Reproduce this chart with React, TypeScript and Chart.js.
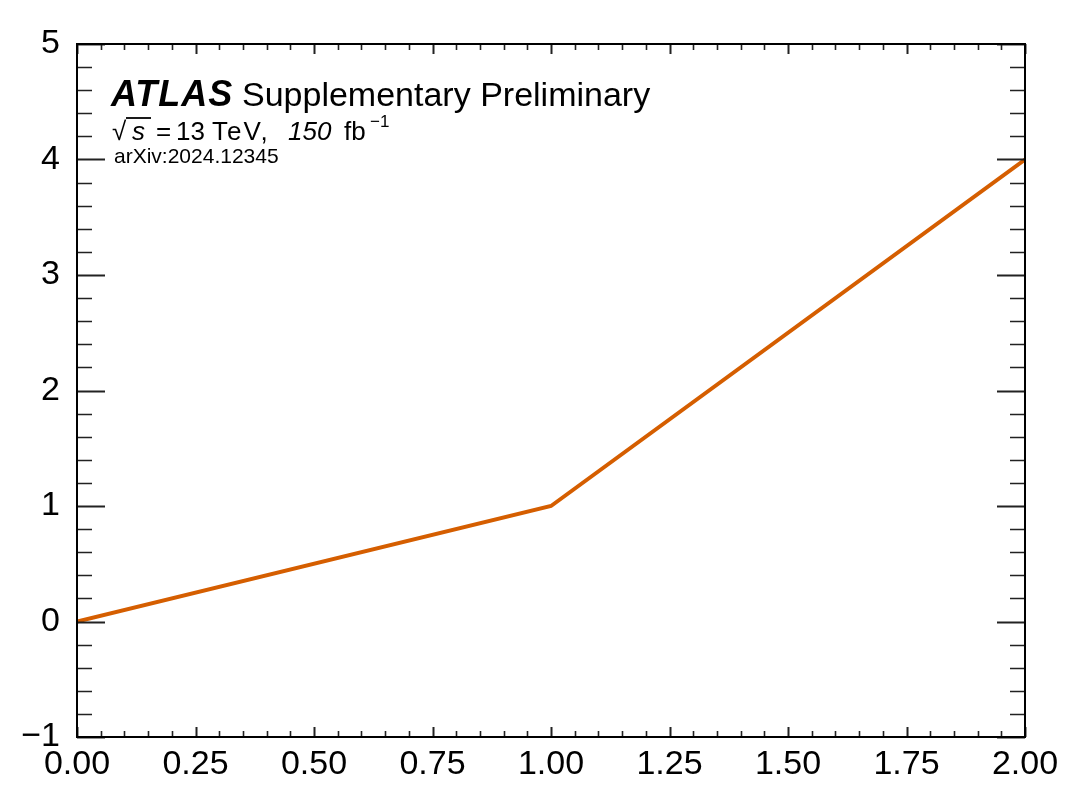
import { useEffect, useRef } from "react";
import Chart from "chart.js/auto";

const xValues = [0, 1, 2];
const yValues = [0, 1, 4];
const yTickValues = [-1, 0, 1, 2, 3, 4, 5];
const xTickValues = [0, 0.25, 0.5, 0.75, 1, 1.25, 1.5, 1.75, 2];
const yMinorStep = 0.2;
const xMinorStep = 0.05;

const FONT = "'Liberation Sans', Arial, Helvetica, sans-serif";

const frameAndTicks = {
  id: "frameAndTicks",
  afterDatasetsDraw(chart: any) {
    const { ctx, chartArea, scales } = chart;
    const { left, right, top, bottom } = chartArea;
    const xs = scales.x;
    const ys = scales.y;
    ctx.save();
    ctx.strokeStyle = "#222";

    // y ticks (left + right), pointing inwards
    const yMin = yTickValues[0];
    const yMax = yTickValues[yTickValues.length - 1];
    for (let v = yMin; v <= yMax + 1e-9; v += yMinorStep) {
      const val = Math.round(v * 1000) / 1000;
      const major = yTickValues.includes(val);
      const len = major ? 28 : 15;
      const py = Math.round(ys.getPixelForValue(val)) + 0.5;
      ctx.lineWidth = major ? 2 : 1.6;
      ctx.beginPath();
      ctx.moveTo(left, py);
      ctx.lineTo(left + len, py);
      ctx.moveTo(right, py);
      ctx.lineTo(right - len, py);
      ctx.stroke();
    }

    // x ticks (bottom + top)
    const xMin = xTickValues[0];
    const xMax = xTickValues[xTickValues.length - 1];
    for (let v = xMin; v <= xMax + 1e-9; v += xMinorStep) {
      const val = Math.round(v * 1000) / 1000;
      const major = xTickValues.includes(val);
      const len = major ? 10 : 6;
      const px = Math.round(xs.getPixelForValue(val)) + 0.5;
      ctx.lineWidth = major ? 2 : 1.6;
      ctx.beginPath();
      ctx.moveTo(px, bottom);
      ctx.lineTo(px, bottom - len);
      ctx.moveTo(px, top);
      ctx.lineTo(px, top + len);
      ctx.stroke();
    }

    // frame
    ctx.strokeStyle = "#000";
    ctx.lineWidth = 2;
    ctx.strokeRect(left, top, right - left, bottom - top);

    // ATLAS label
    ctx.fillStyle = "#000";
    ctx.textBaseline = "alphabetic";
    ctx.textAlign = "left";
    ctx.font = `italic bold 36px ${FONT}`;
    ctx.letterSpacing = "1px";
    ctx.fillText("ATLAS", 111, 106);
    ctx.letterSpacing = "0px";
    ctx.font = `34px ${FONT}`;
    ctx.fillText("Supplementary Preliminary", 242, 106);

    // sqrt(s) line
    ctx.font = `26px ${FONT}`;
    ctx.fillText("\u221A", 112, 140);
    ctx.font = `italic 26px ${FONT}`;
    ctx.fillText("s", 132, 140);
    ctx.lineWidth = 1.8;
    ctx.beginPath();
    ctx.moveTo(126, 118);
    ctx.lineTo(151, 118);
    ctx.stroke();
    ctx.font = `26px ${FONT}`;
    ctx.fillText("=", 156, 140);
    ctx.fillText("13", 176, 140);
    ctx.letterSpacing = "2px";
    ctx.fillText("TeV,", 212, 140);
    ctx.letterSpacing = "0px";
    ctx.font = `italic 26px ${FONT}`;
    ctx.fillText("150", 288, 140);
    ctx.font = `26px ${FONT}`;
    ctx.fillText("fb", 344, 140);
    ctx.font = `17px ${FONT}`;
    ctx.fillText("\u22121", 370, 127);

    ctx.font = `21px ${FONT}`;
    ctx.fillText("arXiv:2024.12345", 114, 163);
    ctx.restore();
  },
};

export default function App() {
  const canvasRef = useRef<HTMLCanvasElement | null>(null);

  useEffect(() => {
    if (!canvasRef.current) return;
    const chart = new Chart(canvasRef.current, {
      type: "line",
      data: {
        datasets: [
          {
            data: xValues.map((x, i) => ({ x, y: yValues[i] })),
            borderColor: "#D55E00",
            borderWidth: 4,
            pointRadius: 0,
            tension: 0,
            fill: false,
          },
        ],
      },
      options: {
        responsive: false,
        animation: false,
        devicePixelRatio: 1,
        layout: { padding: { top: 44, right: 64, left: 0, bottom: 0 } },
        plugins: { legend: { display: false }, tooltip: { enabled: false } },
        scales: {
          x: {
            type: "linear",
            min: xTickValues[0],
            max: xTickValues[xTickValues.length - 1],
            grid: { display: false },
            border: { display: false },
            afterBuildTicks: (scale: any) => {
              scale.ticks = xTickValues.map((value) => ({ value }));
            },
            afterFit: (scale: any) => {
              scale.height = 72;
            },
            ticks: {
              color: "#000",
              font: { family: FONT, size: 34, lineHeight: 1 },
              padding: 3,
              maxRotation: 0,
              callback: (v: any) => Number(v).toFixed(2),
            },
          },
          y: {
            type: "linear",
            min: yTickValues[0],
            max: yTickValues[yTickValues.length - 1],
            grid: { display: false },
            border: { display: false },
            afterBuildTicks: (scale: any) => {
              scale.ticks = yTickValues.map((value) => ({ value }));
            },
            afterFit: (scale: any) => {
              scale.width = 77;
            },
            ticks: {
              color: "#000",
              font: { family: FONT, size: 34 },
              padding: 9,
              callback: (v: any) => (Number(v) < 0 ? "\u2212" + Math.abs(Number(v)) : String(v)),
            },
          },
        },
      },
      plugins: [frameAndTicks],
    });
    return () => chart.destroy();
  }, []);

  return (
    <div style={{ position: "fixed", left: 0, top: 0, width: 1089, height: 809, background: "#fff" }}>
      <canvas ref={canvasRef} width={1089} height={809} />
    </div>
  );
}
